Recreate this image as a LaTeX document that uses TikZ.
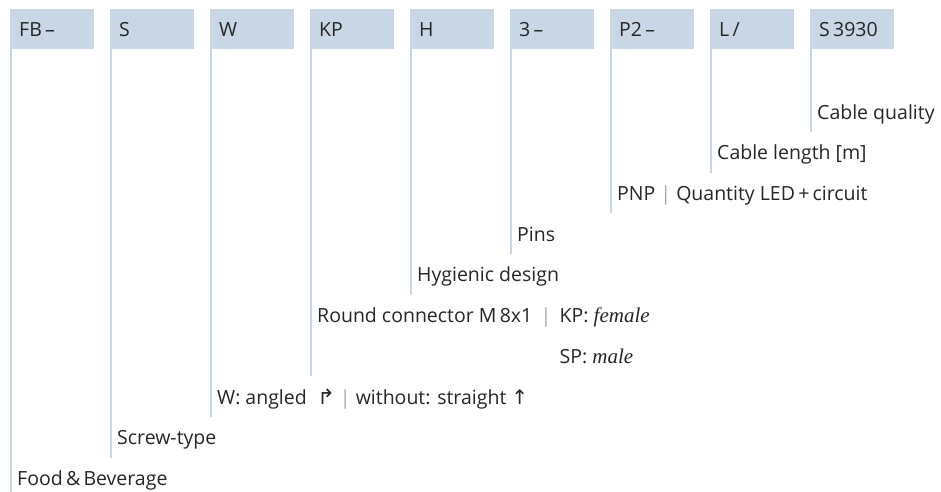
\documentclass[tikz,border=0pt]{standalone}
\usepackage{fontspec}
\setmainfont{Open Sans}
\newfontfamily\symfont{DejaVu Sans}
\newfontfamily\serifit{Liberation Serif}
\definecolor{codeblue}{HTML}{C8D6E5}
\definecolor{inkgray}{HTML}{262626}
\definecolor{sepgray}{HTML}{A8A8A8}
\newcommand\sepbar{{\color{sepgray}|}}
\newcommand\gendr[1]{{\serifit\itshape\fontsize{21}{23}\selectfont #1}}

\begin{document}
\begin{tikzpicture}[x=1pt,y=-1pt,font=\fontsize{19.5}{23}\selectfont,text=inkgray,
    codebox/.style={fill=codeblue,anchor=north west,minimum width=84pt,minimum height=40pt,
        text width=66pt,inner xsep=9pt,inner ysep=0pt,text height=14.5pt,text depth=0pt},
    lbl/.style={anchor=base west,inner sep=0pt},
    lead/.style={draw=codeblue,line width=2pt}]
    \useasboundingbox (0,0) rectangle (941,491);

    % code boxes
    \node[codebox] (fb)   at (10,9)  {FB\,–};
    \node[codebox] (s)    at (110,9) {S};
    \node[codebox] (w)    at (210,9) {W};
    \node[codebox] (kp)   at (310,9) {KP};
    \node[codebox] (h)    at (410,9) {H};
    \node[codebox] (pins) at (510,9) {3\,–};
    \node[codebox] (p2)   at (610,9) {P2\,–};
    \node[codebox] (l)    at (710,9) {L\,/};
    \node[codebox] (sq)   at (810,9) {S\,3930};

    % labels
    \node[lbl] (quality) at (817,119)   {Cable quality};
    \node[lbl] (length)  at (717,159.7) {Cable length [m]};
    \node[lbl] (pnp)     at (617,200.4) {PNP \sepbar{} Quantity LED\,+\,circuit};
    \node[lbl] (npins)   at (517,241)   {Pins};
    \node[lbl] (hyg)     at (417,281.8) {Hygienic design};
    \node[lbl] (round)   at (317,322.5) {Round connector M\,8x1 \,\sepbar};
    \node[lbl] (female)  at ([xshift=8pt]round.base east) {KP: \gendr{female}};
    \node[lbl] (male)    at ([yshift=-40.7pt]female.base west) {SP: \gendr{male}};
    \node[lbl] (angled)  at (217,404)   {W: angled \;{\symfont\fontsize{21}{23}\selectfont ↱} \sepbar{} without: straight {\symfont\fontsize{20}{23}\selectfont ↑}};
    \node[lbl] (screw)   at (117,444.6) {Screw-type};
    \node[lbl] (food)    at (17,485.3)  {Food\,\&\,Beverage};

    % leads
    \foreach \boxname/\labname in {sq/quality,l/length,p2/pnp,pins/npins,h/hyg,kp/male,w/angled,s/screw,fb/food}
        \path[lead] ([xshift=1pt]\boxname.south west) -- ([xshift=1pt]\boxname.south west |- \labname.base) -- ++(0,13);
\end{tikzpicture}
\end{document}
